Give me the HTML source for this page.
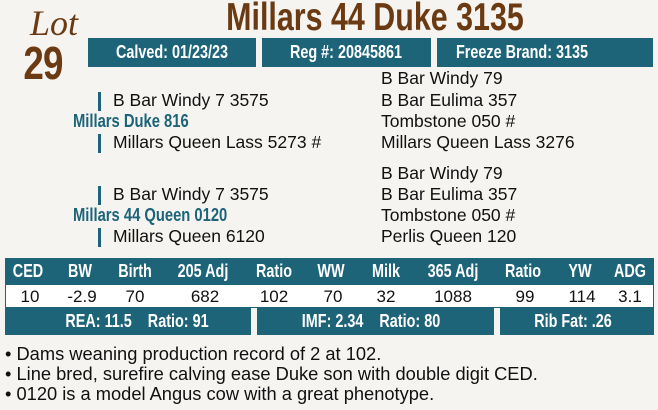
<!DOCTYPE html>
<html><head><style>
body{margin:0;width:658px;height:410px;background:#f5f4f1;position:relative;overflow:hidden;font-family:"Liberation Sans",sans-serif;}
.a{position:absolute;white-space:nowrap}
.n{position:absolute;white-space:nowrap;font-weight:bold;transform:translateX(-50%) scaleX(0.8);}
.bx{position:absolute;background:#1d6479}
.w{color:#fff}
.t{font-size:17.5px;color:#111}
.b{font-size:18.3px;color:#111}
.tl{color:#1d6479;font-weight:bold;font-size:18px;transform-origin:0 0;transform:scaleX(0.82)}
.bar{position:absolute;width:3px;height:19px;background:#1d6479}
.v{position:absolute;white-space:nowrap;font-size:17px;color:#111;transform:translateX(-50%);top:287px}
</style></head><body>
<div class="a" style="left:30px;top:2px;font-family:'Liberation Serif',serif;font-style:italic;font-size:36px;color:#6b3a12">Lot</div>
<div class="n" style="left:43px;top:36px;font-size:46px;color:#6b3a12;letter-spacing:-1px">29</div>
<div class="n" style="left:375px;top:-4px;font-size:39px;color:#6b3a12;transform:translateX(-50%) scaleX(0.78)">Millars 44 Duke 3135</div>
<div class="bx" style="left:88px;top:38px;width:168px;height:29px"></div>
<div class="bx" style="left:262px;top:38px;width:169px;height:29px"></div>
<div class="bx" style="left:437px;top:38px;width:216px;height:29px"></div>
<div class="n w" style="left:172px;top:42px;font-size:18px">Calved: 01/23/23</div>
<div class="n w" style="left:346px;top:42px;font-size:18px">Reg #: 20845861</div>
<div class="n w" style="left:522px;top:42px;font-size:18px">Freeze Brand: 3135</div>

<div class="bar" style="left:98px;top:92px"></div>
<div class="a t" style="left:113px;top:90px">B Bar Windy 7 3575</div>
<div class="a tl" style="left:73px;top:111px">Millars Duke 816</div>
<div class="bar" style="left:98px;top:134px"></div>
<div class="a t" style="left:113px;top:132px">Millars Queen Lass 5273 #</div>
<div class="a t" style="left:381px;top:68px">B Bar Windy 79</div>
<div class="a t" style="left:381px;top:90px">B Bar Eulima 357</div>
<div class="a t" style="left:381px;top:111px">Tombstone 050 #</div>
<div class="a t" style="left:381px;top:132px">Millars Queen Lass 3276</div>

<div class="bar" style="left:98px;top:186px"></div>
<div class="a t" style="left:113px;top:184px">B Bar Windy 7 3575</div>
<div class="a tl" style="left:73px;top:205px">Millars 44 Queen 0120</div>
<div class="bar" style="left:98px;top:228px"></div>
<div class="a t" style="left:113px;top:226px">Millars Queen 6120</div>
<div class="a t" style="left:381px;top:163px">B Bar Windy 79</div>
<div class="a t" style="left:381px;top:184px">B Bar Eulima 357</div>
<div class="a t" style="left:381px;top:205px">Tombstone 050 #</div>
<div class="a t" style="left:381px;top:226px">Perlis Queen 120</div>

<div class="bx" style="left:5px;top:258px;width:649px;height:27px"></div>
<div class="bx" style="left:5px;top:284px;width:647px;height:22px;background:#fff;border:1px solid #1d6479"></div>
<div class="n w" style="left:28px;top:261px;font-size:18px">CED</div>
<div class="n w" style="left:80px;top:261px;font-size:18px">BW</div>
<div class="n w" style="left:135px;top:261px;font-size:18px">Birth</div>
<div class="n w" style="left:203px;top:261px;font-size:18px">205 Adj</div>
<div class="n w" style="left:274px;top:261px;font-size:18px">Ratio</div>
<div class="n w" style="left:331px;top:261px;font-size:18px">WW</div>
<div class="n w" style="left:386px;top:261px;font-size:18px">Milk</div>
<div class="n w" style="left:453px;top:261px;font-size:18px">365 Adj</div>
<div class="n w" style="left:523px;top:261px;font-size:18px">Ratio</div>
<div class="n w" style="left:580px;top:261px;font-size:18px">YW</div>
<div class="n w" style="left:630px;top:261px;font-size:18px">ADG</div>
<div class="v" style="left:30px">10</div>
<div class="v" style="left:82px">-2.9</div>
<div class="v" style="left:135px">70</div>
<div class="v" style="left:205px">682</div>
<div class="v" style="left:274px">102</div>
<div class="v" style="left:333px">70</div>
<div class="v" style="left:386px">32</div>
<div class="v" style="left:453px">1088</div>
<div class="v" style="left:525px">99</div>
<div class="v" style="left:582px">114</div>
<div class="v" style="left:630px">3.1</div>

<div class="bx" style="left:5px;top:308px;width:246px;height:27px"></div>
<div class="bx" style="left:257px;top:308px;width:237px;height:27px"></div>
<div class="bx" style="left:500px;top:308px;width:154px;height:27px"></div>
<div class="n w" style="left:137px;top:311px;font-size:18px">REA: 11.5&nbsp;&nbsp;&nbsp;&nbsp;Ratio: 91</div>
<div class="n w" style="left:371px;top:311px;font-size:18px">IMF: 2.34&nbsp;&nbsp;&nbsp;&nbsp;Ratio: 80</div>
<div class="n w" style="left:573px;top:311px;font-size:18px">Rib Fat: .26</div>

<div class="a b" style="left:5px;top:343px">• Dams weaning production record of 2 at 102.</div>
<div class="a b" style="left:5px;top:363px">• Line bred, surefire calving ease Duke son with double digit CED.</div>
<div class="a b" style="left:5px;top:383px">• 0120 is a model Angus cow with a great phenotype.</div>
</body></html>
